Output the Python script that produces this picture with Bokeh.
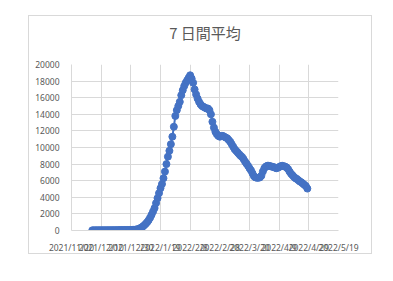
import pandas as pd
from bokeh.plotting import figure
from bokeh.models import Range1d, FixedTicker, ColumnDataSource, Title
from bokeh.embed import file_html
from bokeh.resources import INLINE

title_text = "7 日間平均"
start_date = "2021-12-04"
values = [
    20, 22, 24, 25, 27, 28, 30, 30, 31, 32, 33, 34, 35, 36, 38, 40, 42, 44, 46, 48,
    50, 52, 55, 58, 60, 63, 66, 70, 80, 100, 130, 180, 250, 350, 470, 620, 800, 1000,
    1250, 1550, 1900, 2300, 2700, 3300, 3900, 4500, 5100, 5600, 6300, 7100, 8000, 8900,
    9600, 10400, 11300, 12500, 13800, 14500, 15000, 15500, 16300, 16900, 17400, 17800,
    18100, 18400, 18700, 18300, 17800, 17000, 16400, 15900, 15500, 15200, 15000, 14900,
    14800, 14700, 14700, 14500, 14000, 13100, 12400, 11900, 11600, 11400, 11300, 11400,
    11400, 11300, 11200, 11100, 10900, 10700, 10400, 10100, 9800, 9600, 9400, 9200,
    9000, 8850, 8600, 8300, 8050, 7800, 7500, 7250, 6900, 6550, 6400, 6350, 6350, 6400,
    6600, 7100, 7500, 7700, 7800, 7800, 7750, 7700, 7650, 7600, 7500, 7550, 7650, 7750,
    7800, 7750, 7700, 7600, 7400, 7100, 6850, 6650, 6450, 6300, 6200, 6050, 5900, 5800,
    5650, 5500, 5350, 5050,
]
tick_labels = ["2021/11/20", "2021/12/10", "2021/12/30", "2022/1/19", "2022/2/8",
               "2022/2/28", "2022/3/20", "2022/4/9", "2022/4/29", "2022/5/19"]
y_ticks = list(range(0, 20001, 2000))

dates = pd.date_range(start_date, periods=len(values), freq="D")
src = ColumnDataSource(dict(x=dates, y=values))

tick_ms = [float(pd.to_datetime(t, format="%Y/%m/%d").value // 10**6) for t in tick_labels]

p = figure(width=344, height=239, output_backend="svg", toolbar_location=None,
           x_axis_type="datetime",
           x_range=Range1d(tick_ms[0], tick_ms[-1]), y_range=Range1d(0, 20000),
           min_border_left=42, min_border_right=35, min_border_top=48, min_border_bottom=25,
           styles={"border": "1px solid #d9d9d9", "margin-left": "28px", "margin-top": "15px"})
p.background_fill_color = "white"
p.border_fill_color = "white"
p.outline_line_color = None

p.title.text = title_text
p.title.align = "center"
p.title.text_font = "Noto Sans CJK JP"
p.title.text_font_size = "15px"
p.title.text_font_style = "normal"
p.title.text_color = "#595959"
p.title.standoff = 0

spacer = Title(text=" ", text_font_size="10px", standoff=9)
p.above = [spacer] + list(p.above)

p.line("x", "y", source=src, line_color="#4472C4", line_width=2)
p.scatter("x", "y", source=src, size=7, fill_color="#4472C4", line_color="#4472C4")

p.xaxis.ticker = FixedTicker(ticks=tick_ms)
p.xaxis.major_label_overrides = {t: l for t, l in zip(tick_ms, tick_labels)}
p.yaxis.ticker = FixedTicker(ticks=y_ticks)
for ax in (p.xaxis, p.yaxis):
    ax.axis_line_color = "#d9d9d9"
    ax.major_tick_line_color = None
    ax.minor_tick_line_color = None
    ax.major_label_text_font = "Noto Sans"
    ax.major_label_text_font_size = "8.5px"
    ax.major_label_text_color = "#595959"
p.yaxis.major_label_standoff = 6
p.xaxis.major_label_standoff = 5

p.xgrid.grid_line_color = "#d9d9d9"
p.ygrid.grid_line_color = "#d9d9d9"

open("out.html", "w").write(file_html(p, INLINE))
